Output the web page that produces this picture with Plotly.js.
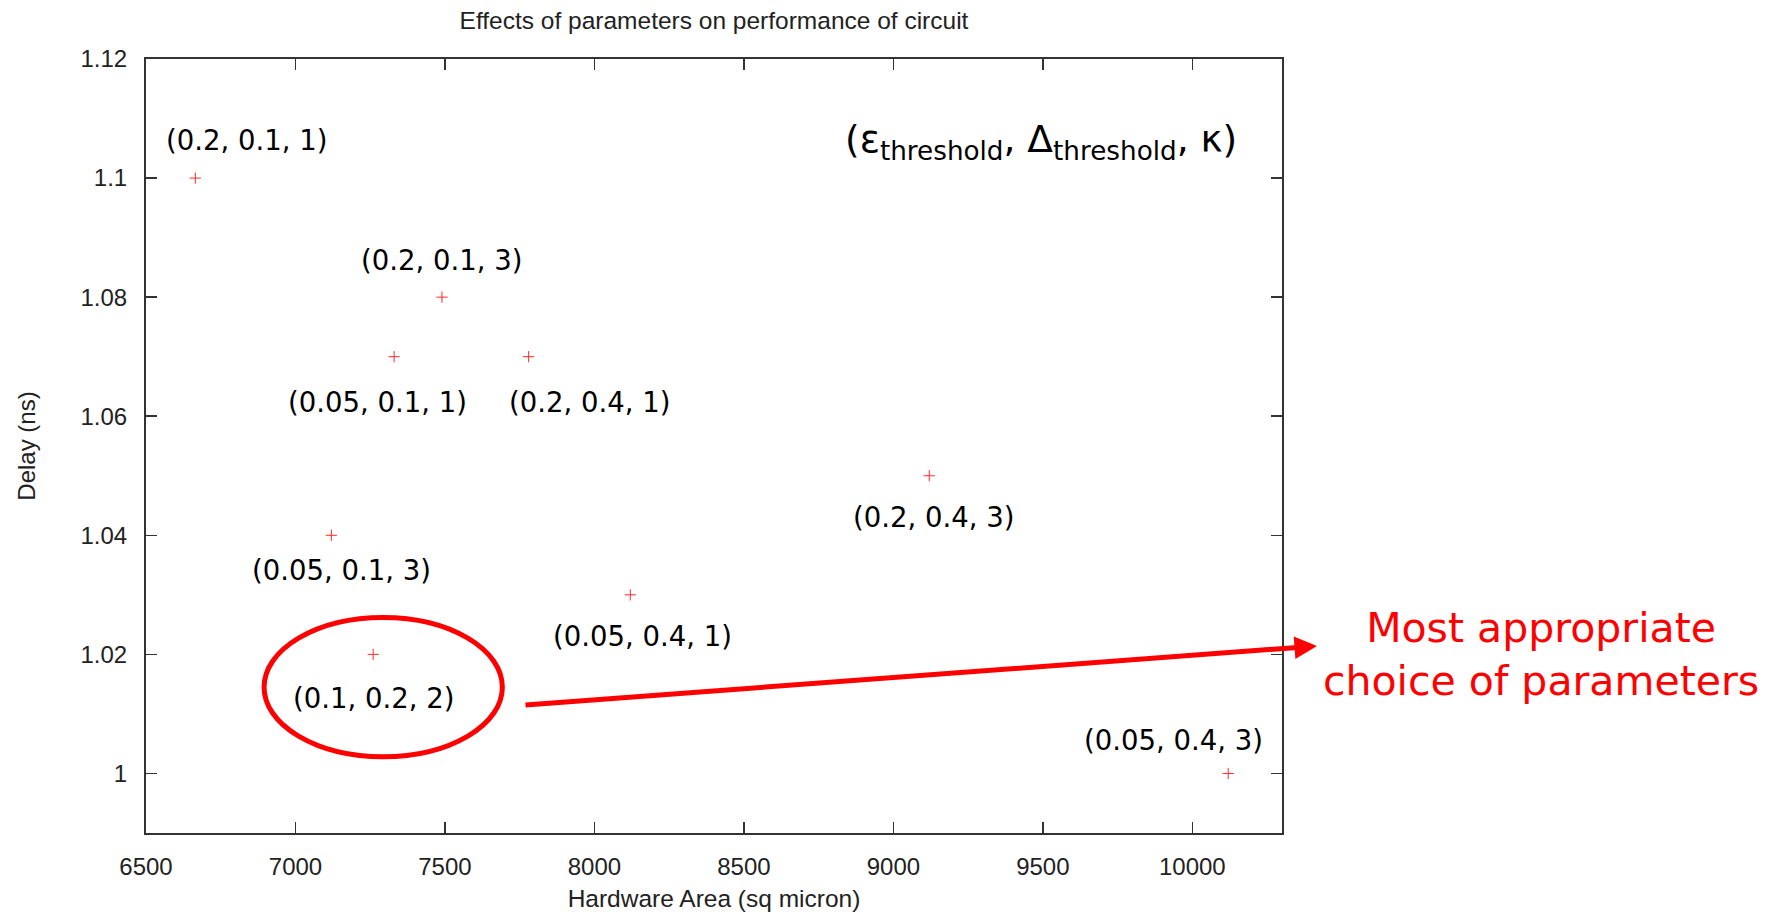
<!DOCTYPE html>
<html>
<head>
<meta charset="utf-8">
<script src="https://cdn.plot.ly/plotly-3.0.1.min.js"></script>
<style>html,body{margin:0;padding:0;background:#fff;}#chart{width:1770px;height:912px;}</style>
</head>
<body>
<div id="chart"></div>
<script>
// ---- data ----
const hardwareArea = [6665, 7490, 7330, 7780, 9120, 7120, 8120, 7260, 10120];
const delayNs      = [1.10, 1.08, 1.07, 1.07, 1.05, 1.04, 1.03, 1.02, 1.00];
const paramLabels  = ["(0.2, 0.1, 1)", "(0.2, 0.1, 3)", "(0.05, 0.1, 1)", "(0.2, 0.4, 1)",
                      "(0.2, 0.4, 3)", "(0.05, 0.1, 3)", "(0.05, 0.4, 1)", "(0.1, 0.2, 2)", "(0.05, 0.4, 3)"];
const xTickVals = [6500, 7000, 7500, 8000, 8500, 9000, 9500, 10000];
const yTickVals = [1, 1.02, 1.04, 1.06, 1.08, 1.1, 1.12];
const yTickText = ["1", "1.02", "1.04", "1.06", "1.08", "1.1", "1.12"];

// ---- label offsets (pixels) ----
const labelDx = [51, 0, -17, 61, 4, 10, 12, 0, -55];
const labelDy = [38, 37, -45, -45, -41, -35, -41, -44, 33];

const gpFont = "Liberation Sans, Arial, sans-serif";
const slideFont = "DejaVu Sans, Verdana, sans-serif";

const trace = {
  x: hardwareArea, y: delayNs, type: "scatter", mode: "markers",
  marker: {symbol: "cross-thin", size: 8, color: "red", line: {width: 1, color: "#ff2a2a"}},
  hoverinfo: "x+y", showlegend: false, cliponaxis: false
};

const annotations = paramLabels.map((t, i) => ({
  x: hardwareArea[i], y: delayNs[i], xref: "x", yref: "y",
  text: t, showarrow: false, xanchor: "center", yanchor: "middle",
  xshift: labelDx[i], yshift: labelDy[i],
  font: {family: slideFont, size: 27.5, color: "#000"}
}));

annotations.push({
  xref: "paper", yref: "paper", x: 0.788, y: 0.894,
  text: "(ε<sub>threshold</sub>, Δ<sub>threshold</sub>, κ)",
  showarrow: false, xanchor: "center", yanchor: "middle",
  font: {family: slideFont, size: 37.5, color: "#000"}
});

annotations.push({
  xref: "paper", yref: "paper", x: 1.0308, y: 0.2416,
  ax: -793, ay: 59, axref: "pixel", ayref: "pixel",
  text: "", showarrow: true, arrowhead: 2, arrowsize: 0.9, arrowwidth: 5,
  arrowcolor: "#ff0000", standoff: 0, startstandoff: 0
});

annotations.push({
  xref: "paper", yref: "paper", x: 1.228, y: 0.231,
  text: "Most appropriate<br>choice of parameters",
  showarrow: false, xanchor: "center", yanchor: "middle", align: "center",
  font: {family: slideFont, size: 41, color: "#ff0000", lineposition: "none"}
});

const axisCommon = {
  showline: true, linecolor: "#333", linewidth: 2, mirror: "ticks",
  ticks: "inside", ticklen: 11, tickwidth: 1.5, tickcolor: "#333",
  showgrid: false, zeroline: false,
  tickfont: {family: gpFont, size: 24, color: "#222"}
};

const layout = {
  width: 1770, height: 912, autosize: false,
  paper_bgcolor: "#fff", plot_bgcolor: "#fff",
  margin: {l: 146, r: 488, t: 59, b: 79},
  title: {
    text: "Effects of parameters on performance of circuit",
    font: {family: gpFont, size: 24.5, color: "#222"},
    x: 0.5, xref: "paper", xanchor: "center",
    y: 1 - 20 / 912, yref: "container", yanchor: "middle"
  },
  xaxis: Object.assign({}, axisCommon, {
    range: [6500, 10300], tickvals: xTickVals, tickformat: "d",
    ticklabelstandoff: 11,
    title: {text: "Hardware Area (sq micron)", font: {family: gpFont, size: 24.5, color: "#222"}, standoff: 12}
  }),
  yaxis: Object.assign({}, axisCommon, {
    range: [0.99, 1.12], tickvals: yTickVals, ticktext: yTickText,
    ticklabelstandoff: 12,
    title: {text: "Delay (ns)", font: {family: gpFont, size: 24, color: "#222"}, standoff: 38}
  }),
  shapes: [{
    type: "circle", xref: "x", yref: "y",
    x0: 6895, x1: 7692, y0: 1.0028, y1: 1.0262,
    line: {color: "#ff0000", width: 5}, fillcolor: "rgba(0,0,0,0)"
  }],
  annotations: annotations
};

Plotly.newPlot("chart", [trace], layout, {displayModeBar: false, staticPlot: true});
</script>
</body>
</html>
